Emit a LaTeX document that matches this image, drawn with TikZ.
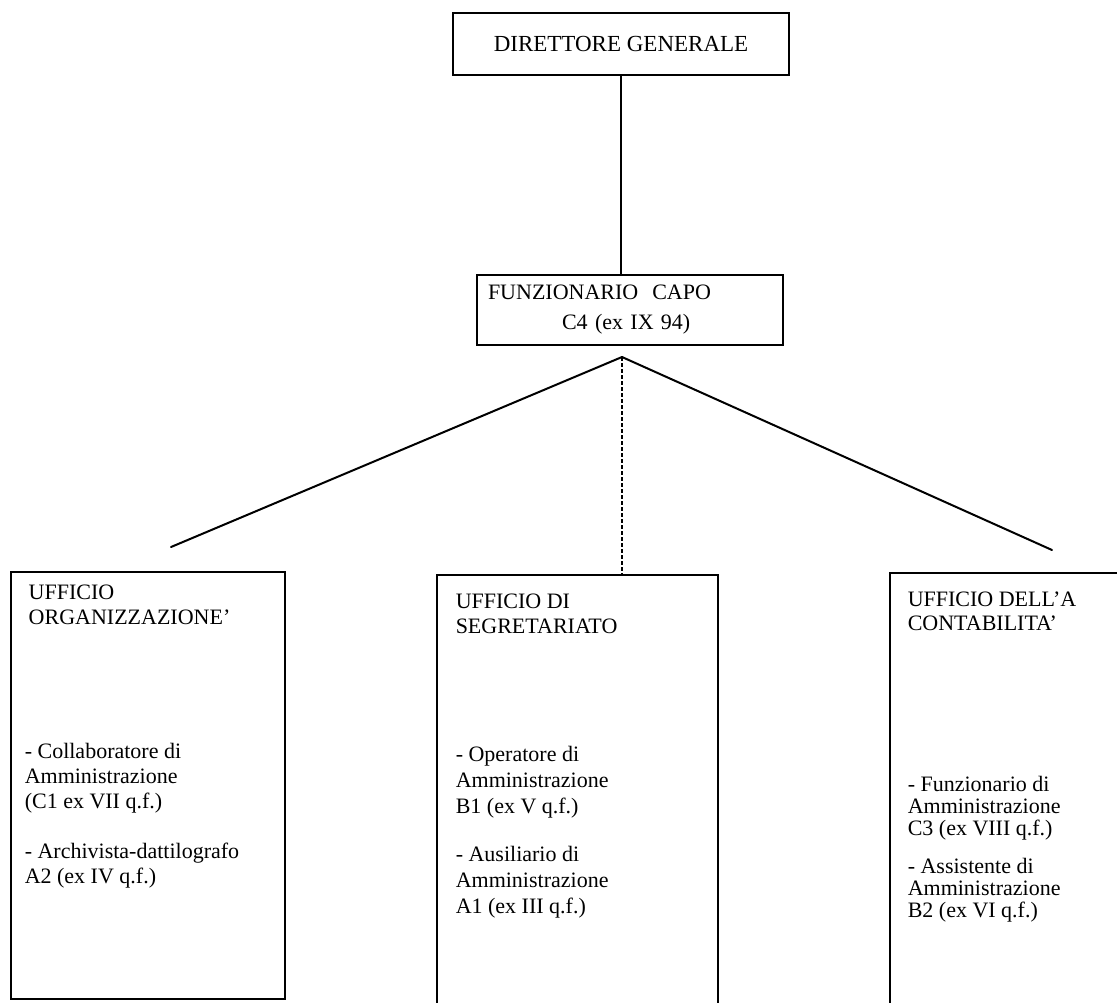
\documentclass[tikz,border=0pt]{standalone}
\usepackage{fontspec}
\setmainfont{Liberation Serif}
\tikzset{every picture/.style={line width=0.75pt}}
\tikzset{
  ufficio/.style={draw, line width=1pt, inner sep=0pt, outer sep=0pt},
  voce/.style={inner sep=0pt, anchor=north west, align=left, font=\fontsize{11}{12.5}\selectfont},
  linea/.style={line width=1pt, line cap=round},
}

\begin{document}
\begin{tikzpicture}[x=0.5pt,y=0.5pt,yscale=-1,xscale=1]
\useasboundingbox (0,0) rectangle (1117,1002);

%Shape: Rectangle [direttore]
\node (direttore) [ufficio, minimum width=168pt, minimum height=31pt, font=\fontsize{11.5}{13}\selectfont] at (621,44) {DIRETTORE GENERALE};
%Shape: Rectangle [capo]
\node (capo) [ufficio, minimum height=35pt, text width=142pt, inner xsep=5.5pt, align=left, font=\fontsize{11}{15}\selectfont] at (630,310) {FUNZIONARIO\hspace{7pt}CAPO\\\hspace*{37pt}C4 (ex IX 94)};

%Shape: Rectangle [uffici]
\node (organizzazione) [ufficio, minimum width=137pt, minimum height=213.5pt] at (148,785.5) {};
\node (segretariato) [ufficio, minimum width=140.5pt, minimum height=227.5pt] at (577.5,802.5) {};
\node (contabilita) [ufficio, minimum width=125pt, minimum height=228.5pt] at (1015,801.5) {};

%Straight Lines
\coordinate (fork) at (622,357);
\coordinate (sinistra) at (171,547);
\coordinate (destra) at (1052,550);
\draw [linea] (direttore.south) -- (direttore.south |- capo.north);
\draw [linea] (fork) -- (sinistra);
\draw [linea] (fork) -- (destra);
\draw [line width=0.75pt, dash pattern=on 2pt off 1pt] (fork) -- (fork |- segretariato.north);

% Text Node
\node (orgtitolo) [voce] at (28,584) {UFFICIO\\ORGANIZZAZIONE'};
% Text Node
\node (orgvoci) [voce] at (24,742) {- Collaboratore di\\Amministrazione\\(C1 ex VII q.f.)\\[12.5pt]- Archivista-dattilografo\\A2 (ex IV q.f.)};
% Text Node
\node (segtitolo) [voce] at (455,593) {UFFICIO DI\\SEGRETARIATO};
% Text Node
\node (segvoci) [voce, font=\fontsize{11}{13}\selectfont] at (455,745) {- Operatore di\\Amministrazione\\B1 (ex V q.f.)\\[11pt]- Ausiliario di\\Amministrazione\\A1 (ex III q.f.)};
% Text Node
\node (contitolo) [voce, font=\fontsize{11}{12}\selectfont] at (907,591) {UFFICIO DELL'A\\CONTABILITA'};
% Text Node
\node (convoci) [voce, font=\fontsize{11}{11}\selectfont] at (907,775) {- Funzionario di\\Amministrazione\\C3 (ex VIII q.f.)\\[8pt]- Assistente di\\Amministrazione\\B2 (ex VI q.f.)};

\end{tikzpicture}
\end{document}
